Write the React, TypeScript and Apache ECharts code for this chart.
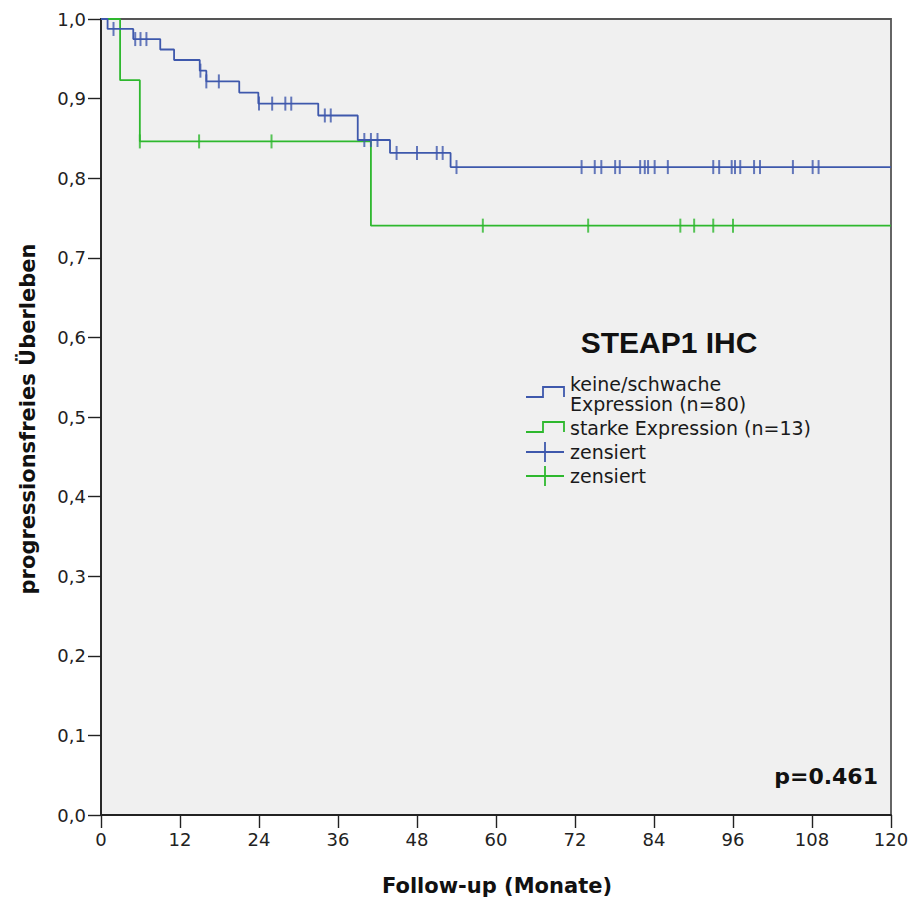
import React, { useEffect, useRef } from "react";
import * as echarts from "echarts";

// Kaplan-Meier curves (time in months, survival proportion)
const blueTimes = [0, 1.0, 4.9, 9.0, 11.1, 15.0, 16.0, 21.0, 23.9, 33.0, 39.0, 43.9, 53.1, 120];
const blueSurv = [1, 0.9875, 0.9748, 0.9617, 0.9485, 0.9351, 0.9216, 0.9076, 0.8937, 0.8788, 0.848, 0.8317, 0.814, 0.814];
const blueCensorTimes = [1.9, 5.2, 6.0, 6.9, 15.1, 16.0, 17.9, 24.0, 26.0, 28.0, 28.9, 34.0, 34.9, 40.0, 41.0, 42.0, 44.9, 48.0, 51.0, 51.9, 54.0, 73.0, 75.0, 76.0, 78.1, 78.8, 81.9, 82.6, 83.1, 84.1, 86.1, 93.0, 93.9, 95.8, 96.3, 97.1, 99.2, 100.1, 105.1, 108.1, 109.0];
const blueCensorSurv = [0.9875, 0.9748, 0.9748, 0.9748, 0.9351, 0.9216, 0.9216, 0.8937, 0.8937, 0.8937, 0.8937, 0.8788, 0.8788, 0.848, 0.848, 0.848, 0.8317, 0.8317, 0.8317, 0.8317, 0.814, 0.814, 0.814, 0.814, 0.814, 0.814, 0.814, 0.814, 0.814, 0.814, 0.814, 0.814, 0.814, 0.814, 0.814, 0.814, 0.814, 0.814, 0.814, 0.814, 0.814];

const greenTimes = [0, 2.9, 5.9, 41.0, 120];
const greenSurv = [1, 0.9231, 0.8462, 0.7404, 0.7404];
const greenCensorTimes = [5.9, 14.9, 25.9, 58.0, 74.0, 88.0, 90.1, 93.0, 96.0];
const greenCensorSurv = [0.8462, 0.8462, 0.8462, 0.7404, 0.7404, 0.7404, 0.7404, 0.7404, 0.7404];

const xTicks = { min: 0, max: 120, interval: 12 };
const yTicks = { min: 0, max: 1, interval: 0.1 };

const legendTitle = "STEAP1 IHC";
const legendLabels = ["keine/schwache\nExpression (n=80)", "starke Expression (n=13)", "zensiert", "zensiert"];
const xTitle = "Follow-up (Monate)";
const yTitle = "progressionsfreies Überleben";
const pText = "p=0.461";

const BLUE = "#3E58AC";
const GREEN = "#2EB82E";

const zip = (a: number[], b: number[]) => a.map((v, i) => [v, b[i]]);

export default function App() {
  const ref = useRef<HTMLDivElement>(null);
  useEffect(() => {
    if (!ref.current) return;
    const chart = echarts.init(ref.current, null, { renderer: "svg" });
    const font = "DejaVu Sans";
    const lx = 526;
    const txtX = 570;
    const legendText = (text: string, y: number) => ({
      type: "text",
      x: txtX,
      y,
      style: { text, font: `19px '${font}'`, fill: "#1a1a1a", verticalAlign: "middle", lineHeight: 20 },
    });
    const step = (y: number, color: string) => ({
      type: "polyline",
      shape: { points: [[lx, y], [lx + 17, y], [lx + 17, y - 10], [lx + 38, y - 10], [lx + 38, y]] },
      style: { stroke: color, lineWidth: 1.8, fill: "none" },
    });
    const cross = (y: number, color: string) => ({
      type: "group",
      children: [
        { type: "line", shape: { x1: lx, y1: y, x2: lx + 38, y2: y }, style: { stroke: color, lineWidth: 1.8 } },
        { type: "line", shape: { x1: lx + 19, y1: y - 10, x2: lx + 19, y2: y + 10 }, style: { stroke: color, lineWidth: 1.8 } },
      ],
    });
    chart.setOption({
      animation: false,
      backgroundColor: "#ffffff",
      grid: {
        left: 101,
        top: 19,
        right: 23,
        bottom: 85,
        show: true,
        backgroundColor: "#F0F0F0",
        borderColor: "#555",
        borderWidth: 1.8,
      },
      xAxis: {
        type: "value",
        min: xTicks.min,
        max: xTicks.max,
        interval: xTicks.interval,
        splitLine: { show: false },
        axisLine: { show: true, onZero: false, lineStyle: { color: "#222", width: 1.8 } },
        axisTick: { show: true, length: 13, lineStyle: { color: "#222", width: 1.4 } },
        axisLabel: { fontFamily: font, fontSize: 18, color: "#222", margin: 15 },
      },
      yAxis: {
        type: "value",
        min: yTicks.min,
        max: yTicks.max,
        interval: yTicks.interval,
        splitLine: { show: false },
        axisLine: { show: true, onZero: false, lineStyle: { color: "#222", width: 1.8 } },
        axisTick: { show: true, length: 13, lineStyle: { color: "#222", width: 1.4 } },
        axisLabel: {
          fontFamily: font,
          fontSize: 18,
          color: "#222",
          margin: 15,
          formatter: (v: number) => v.toFixed(1).replace(".", ","),
        },
      },
      series: [
        {
          type: "line",
          step: "end",
          data: zip(greenTimes, greenSurv),
          showSymbol: false,
          clip: false,
          lineStyle: { color: GREEN, width: 1.8 },
          itemStyle: { color: GREEN },
          z: 2,
        },
        {
          type: "scatter",
          data: zip(greenCensorTimes, greenCensorSurv),
          symbol: "rect",
          symbolSize: [2, 14],
          itemStyle: { color: GREEN },
          z: 3,
        },
        {
          type: "line",
          step: "end",
          data: zip(blueTimes, blueSurv),
          showSymbol: false,
          clip: false,
          lineStyle: { color: BLUE, width: 1.8 },
          itemStyle: { color: BLUE },
          z: 4,
        },
        {
          type: "scatter",
          data: zip(blueCensorTimes, blueCensorSurv),
          symbol: "rect",
          symbolSize: [2, 14],
          itemStyle: { color: BLUE },
          z: 5,
        },
      ],
      graphic: [
        {
          type: "text",
          x: 669,
          y: 342,
          style: { text: legendTitle, font: "bold 30px 'Liberation Sans'", fill: "#111", align: "center", verticalAlign: "middle" },
        },
        step(397, BLUE),
        legendText(legendLabels[0], 394),
        step(432, GREEN),
        legendText(legendLabels[1], 428),
        cross(452, BLUE),
        legendText(legendLabels[2], 452),
        cross(476, GREEN),
        legendText(legendLabels[3], 476),
        {
          type: "text",
          x: 878,
          y: 776,
          style: { text: pText, font: `bold 22px '${font}'`, fill: "#111", align: "right", verticalAlign: "middle" },
        },
        {
          type: "text",
          x: 497,
          y: 886,
          style: { text: xTitle, font: `bold 21px '${font}'`, fill: "#111", align: "center", verticalAlign: "middle" },
        },
        {
          type: "text",
          x: 28,
          y: 419,
          rotation: Math.PI / 2,
          style: { text: yTitle, font: `bold 21px '${font}'`, fill: "#111", align: "center", verticalAlign: "middle" },
        },
      ],
    });
    return () => chart.dispose();
  }, []);
  return (
    <div
      ref={ref}
      style={{ position: "fixed", left: 0, top: 0, width: 914, height: 900, background: "#fff" }}
    />
  );
}
